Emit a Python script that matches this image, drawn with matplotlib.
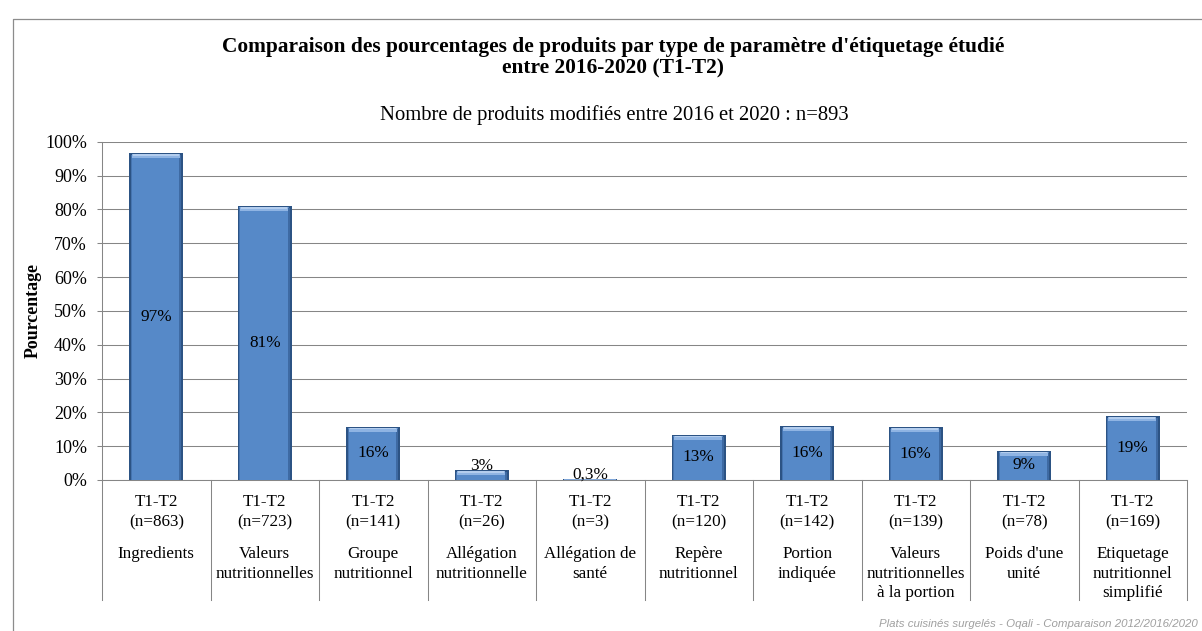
import matplotlib
matplotlib.use("Agg")
import matplotlib.pyplot as plt
from matplotlib.transforms import blended_transform_factory
from matplotlib.lines import Line2D
import numpy as np

# ---------------- data ----------------
categories = ["Ingredients", "Valeurs\nnutritionnelles", "Groupe\nnutritionnel",
              "Allégation\nnutritionnelle", "Allégation de\nsanté", "Repère\nnutritionnel",
              "Portion\nindiquée", "Valeurs\nnutritionnelles\nà la portion",
              "Poids d'une\nunité", "Etiquetage\nnutritionnel\nsimplifié"]
period_labels = ["T1-T2"] * 10
counts = [863, 723, 141, 26, 3, 120, 142, 139, 78, 169]
values = [96.6, 81.0, 15.8, 2.9, 0.3, 13.4, 15.9, 15.6, 8.7, 18.9]
value_labels = ["97%", "81%", "16%", "3%", "0,3%", "13%", "16%", "16%", "9%", "19%"]
y_ticks = [0, 10, 20, 30, 40, 50, 60, 70, 80, 90, 100]
y_tick_labels = ["0%", "10%", "20%", "30%", "40%", "50%", "60%", "70%", "80%", "90%", "100%"]
title_lines = ["Comparaison des pourcentages de produits par type de paramètre d'étiquetage étudié",
               "entre 2016-2020 (T1-T2)"]
subtitle = "Nombre de produits modifiés entre 2016 et 2020 : n=893"
y_label = "Pourcentage"
footer = "Plats cuisinés surgelés - Oqali - Comparaison 2012/2016/2020"

# ---------------- layout ----------------
W, H = 1202, 631
SERIF = "Liberation Serif"
GRID = "#868686"

fig = plt.figure(figsize=(W / 100, H / 100), dpi=100)
fig.patch.set_facecolor("white")
renderer = fig.canvas.get_renderer()


def fx(px):
    return px / W


def fy(py):
    return 1 - py / H


def fit(text, target_px, **kw):
    t = fig.text(0, 0, text, fontsize=20, **kw)
    w = t.get_window_extent(renderer=renderer).width
    t.remove()
    return 20 * target_px / w


AX_L, AX_R, AX_T, AX_B = 102, 1187, 141.7, 480
ax = fig.add_axes([fx(AX_L), fy(AX_B), (AX_R - AX_L) / W, (AX_B - AX_T) / H])
ax.set_xlim(-0.5, len(values) - 0.5)
ax.set_ylim(0, 100)
ax.set_facecolor("white")

px_x = len(values) / (AX_R - AX_L)
px_y = 100 / (AX_B - AX_T)
bw = 0.5

# bars with a bevel look
for i, v in enumerate(values):
    ax.bar(i, v, width=bw, color="#2c5384", linewidth=0, zorder=3)
    h_px = v / px_y
    if h_px < 3:
        ax.bar(i, v, width=bw - 2 * px_x, color="#7fa6d8", linewidth=0, zorder=4)
        continue
    inner_w = bw - 4 * px_x
    ax.bar(i - 0.5 * px_x, v - 1.5 * px_y, width=inner_w, color="#5689c8",
           linewidth=0, zorder=4)
    # left and right shade
    ax.bar(i - bw / 2 + 2 * px_x, v - 2 * px_y, width=1.2 * px_x, color="#4574b0",
           linewidth=0, zorder=5)
    ax.bar(i + bw / 2 - 3 * px_x, v - 2 * px_y, width=2 * px_x, color="#3e6aa3",
           linewidth=0, zorder=5)
    # top highlight
    hl = min(4.0, h_px - 2) * px_y
    if hl > 0:
        ax.bar(i - 0.5 * px_x, hl, bottom=v - 1.2 * px_y - hl, width=bw - 6 * px_x,
               color="#8fb4e3", linewidth=0, zorder=6)
        ax.bar(i - 0.5 * px_x, hl * 0.4, bottom=v - 1.2 * px_y - hl * 0.4,
               width=bw - 8 * px_x, color="#b3cdee", linewidth=0, zorder=7)

# axes styling
ax.set_yticks(y_ticks)
ax.set_xticks([])
fs_tick = fit("100%", 42, family=SERIF)
ax.set_yticklabels(y_tick_labels, fontsize=fs_tick, family=SERIF)
ax.tick_params(axis="y", length=3.6, width=0.75, color=GRID, pad=7.2)
ax.yaxis.grid(True, color=GRID, linewidth=0.75)
ax.set_axisbelow(True)
for s in ["top", "right"]:
    ax.spines[s].set_visible(False)
for s in ["left", "bottom"]:
    ax.spines[s].set_color(GRID)
    ax.spines[s].set_linewidth(0.75)

# data labels
fs_val = fit("19%", 31.7, family=SERIF)
for i, (v, lab) in enumerate(zip(values, value_labels)):
    if v < 5:
        ax.text(i, v + 0.2 * px_y, lab, ha="center", va="baseline", fontsize=fs_val,
                family=SERIF, zorder=10)
    else:
        ax.text(i, v / 2, lab, ha="center", va="center", fontsize=fs_val,
                family=SERIF, zorder=10)

# category separators and labels
trans = blended_transform_factory(ax.transData, ax.transAxes)
ax_h = AX_B - AX_T
sep_depth = -(600 - AX_B) / ax_h
for b in np.arange(-0.5, len(values)):
    ax.plot([b, b], [0, sep_depth], transform=trans, color=GRID, lw=0.75,
            clip_on=False, zorder=2)

fs_cat = fit("Allégation de", 92.3, family=SERIF)


def ya(py):
    return -(py - AX_B) / ax_h


for i, (p, n, c) in enumerate(zip(period_labels, counts, categories)):
    ax.text(i, ya(506), p, transform=trans, ha="center", va="baseline",
            fontsize=fs_cat, family=SERIF)
    ax.text(i, ya(526.5), f"(n={n})", transform=trans, ha="center", va="baseline",
            fontsize=fs_cat, family=SERIF)
    for k, line in enumerate(c.split("\n")):
        ax.text(i, ya(558 + 19.5 * k), line, transform=trans, ha="center",
                va="baseline", fontsize=fs_cat, family=SERIF)

# titles
fs_title = fit(title_lines[0], 783, family=SERIF, weight="bold")
fig.text(fx(613), fy(52), title_lines[0], ha="center", va="baseline",
         fontsize=fs_title, family=SERIF, weight="bold")
fig.text(fx(613), fy(73.5), title_lines[1], ha="center", va="baseline",
         fontsize=fs_title, family=SERIF, weight="bold")
fs_sub = fit(subtitle, 471, family=SERIF)
fig.text(fx(614.5), fy(120), subtitle, ha="center", va="baseline",
         fontsize=fs_sub, family=SERIF)

# y label
fs_yl = fit(y_label, 95, family=SERIF, weight="bold")
fig.text(fx(33), fy(311), y_label, rotation=90, ha="center", va="center",
         fontsize=fs_yl, family=SERIF, weight="bold")

# footer, kept fully inside the figure
fs_foot = fit(footer, 318, family="Liberation Sans", style="italic")
fig.text(fx(1198), fy(627), footer, ha="right", va="baseline", fontsize=fs_foot,
         family="Liberation Sans", style="italic", color="#a0a0a0")

# outer chart border (left and top)
fig.add_artist(Line2D([fx(12.5), fx(12.5), 1.0], [0, fy(18.5), fy(18.5)],
                      transform=fig.transFigure, color="#8c8c8c", lw=0.9))

fig.savefig("out.png", dpi=100)
